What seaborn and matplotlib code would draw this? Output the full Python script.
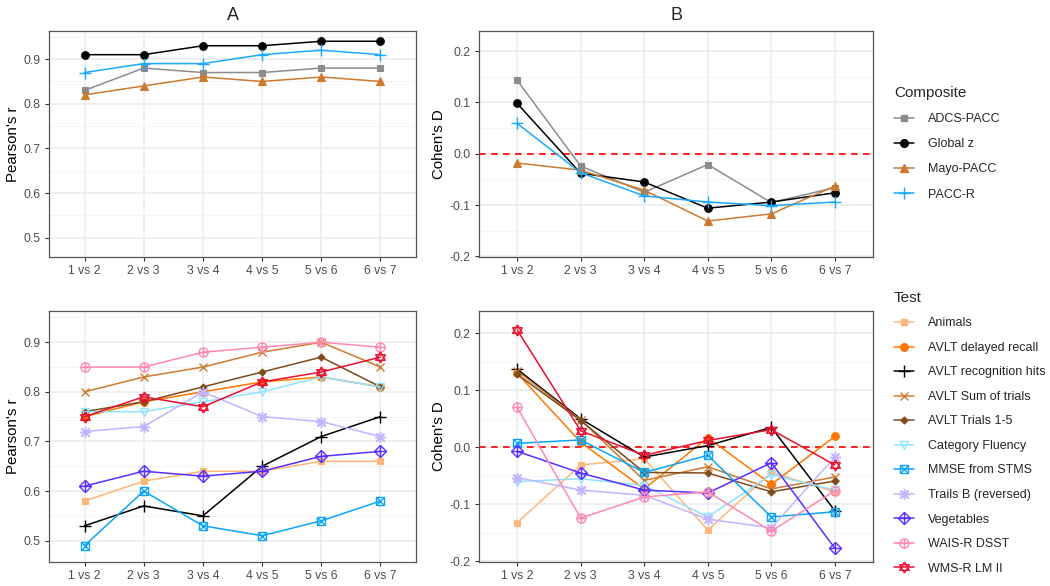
import numpy as np
import pandas as pd
import matplotlib
matplotlib.use("Agg")
import matplotlib.pyplot as plt
import seaborn as sns
from matplotlib.lines import Line2D
from matplotlib.legend_handler import HandlerTuple
from matplotlib.ticker import MultipleLocator

# ---------------- data ----------------
comparisons = ["1 vs 2", "2 vs 3", "3 vs 4", "4 vs 5", "5 vs 6", "6 vs 7"]

composites = ["ADCS-PACC", "Global z", "Mayo-PACC", "PACC-R"]
r_adcs_pacc = [0.83, 0.88, 0.87, 0.87, 0.88, 0.88]
r_global_z = [0.91, 0.91, 0.93, 0.93, 0.94, 0.94]
r_mayo_pacc = [0.82, 0.84, 0.86, 0.85, 0.86, 0.85]
r_pacc_r = [0.87, 0.89, 0.89, 0.91, 0.92, 0.91]

d_adcs_pacc = [0.143, -0.024, -0.075, -0.021, -0.095, -0.066]
d_global_z = [0.098, -0.038, -0.055, -0.106, -0.094, -0.076]
d_mayo_pacc = [-0.018, -0.032, -0.071, -0.131, -0.117, -0.063]
d_pacc_r = [0.059, -0.037, -0.082, -0.094, -0.101, -0.094]

tests = ["Animals", "AVLT delayed recall", "AVLT recognition hits",
         "AVLT Sum of trials", "AVLT Trials 1-5", "Category Fluency",
         "MMSE from STMS", "Trails B (reversed)", "Vegetables",
         "WAIS-R DSST", "WMS-R LM II"]
r_animals = [0.58, 0.62, 0.64, 0.64, 0.66, 0.66]
r_avlt_delayed = [0.75, 0.78, 0.80, 0.82, 0.83, 0.81]
r_avlt_recog = [0.53, 0.57, 0.55, 0.65, 0.71, 0.75]
r_avlt_sum = [0.80, 0.83, 0.85, 0.88, 0.90, 0.85]
r_avlt_trials = [0.76, 0.78, 0.81, 0.84, 0.87, 0.81]
r_category = [0.76, 0.76, 0.78, 0.80, 0.83, 0.81]
r_mmse = [0.49, 0.60, 0.53, 0.51, 0.54, 0.58]
r_trails_b = [0.72, 0.73, 0.80, 0.75, 0.74, 0.71]
r_vegetables = [0.61, 0.64, 0.63, 0.64, 0.67, 0.68]
r_dsst = [0.85, 0.85, 0.88, 0.89, 0.90, 0.89]
r_lm2 = [0.75, 0.79, 0.77, 0.82, 0.84, 0.87]

d_animals = [-0.132, -0.031, -0.020, -0.145, -0.044, -0.078]
d_avlt_delayed = [0.130, 0.009, -0.073, 0.017, -0.065, 0.019]
d_avlt_recog = [0.137, 0.050, -0.017, 0.003, 0.035, -0.111]
d_avlt_sum = [0.134, 0.048, -0.058, -0.034, -0.073, -0.052]
d_avlt_trials = [0.128, 0.047, -0.044, -0.045, -0.078, -0.059]
d_category = [-0.060, -0.055, -0.067, -0.122, -0.048, -0.075]
d_mmse = [0.007, 0.013, -0.044, -0.014, -0.122, -0.113]
d_trails_b = [-0.053, -0.075, -0.084, -0.126, -0.141, -0.017]
d_vegetables = [-0.007, -0.045, -0.075, -0.080, -0.027, -0.177]
d_dsst = [0.070, -0.124, -0.087, -0.078, -0.147, -0.076]
d_lm2 = [0.206, 0.029, -0.014, 0.012, 0.031, -0.031]

comp_r = [r_adcs_pacc, r_global_z, r_mayo_pacc, r_pacc_r]
comp_d = [d_adcs_pacc, d_global_z, d_mayo_pacc, d_pacc_r]
test_r = [r_animals, r_avlt_delayed, r_avlt_recog, r_avlt_sum, r_avlt_trials,
          r_category, r_mmse, r_trails_b, r_vegetables, r_dsst, r_lm2]
test_d = [d_animals, d_avlt_delayed, d_avlt_recog, d_avlt_sum, d_avlt_trials,
          d_category, d_mmse, d_trails_b, d_vegetables, d_dsst, d_lm2]

# ---------------- styles ----------------
star_tri_up = [(0, 1), (-0.866, -0.5), (0.866, -0.5), (0, 1)]
star_tri_dn = [(0, -1), (-0.866, 0.5), (0.866, 0.5), (0, -1)]

comp_colors = ["#8C8C8C", "#000000", "#CC7A30", "#18AAFF"]
comp_markers = [[("s", True, 5.0)], [("o", True, 5.5)], [("^", True, 5.8)],
                [("+", False, 9.0)]]

test_colors = ["#FDB77A", "#FF7700", "#000000", "#CC7A30", "#7F4A1C",
               "#8FE3FF", "#0AA6F5", "#C3B4FF", "#5A2EFF", "#FF88B0", "#E8102E"]
test_markers = [
    [("s", True, 5.0)],
    [("o", True, 5.5)],
    [("+", False, 9.0)],
    [("x", False, 6.0)],
    [("D", True, 3.5)],
    [("v", False, 6.0)],
    [("s", False, 6.0), ("x", False, 6.0)],
    [((8, 2, 0), False, 8.0)],
    [("D", False, 6.0), ("+", False, 8.5)],
    [("o", False, 6.5), ("+", False, 6.5)],
    [(star_tri_up, False, 8.0), (star_tri_dn, False, 8.0)],
]

sns.set_theme(style="white")
plt.rcParams["font.family"] = ["Liberation Sans", "DejaVu Sans"]

W, H = 1050, 586
fig = plt.figure(figsize=(W / 100, H / 100), dpi=100)


def box(l, t, r, b):
    return [l / W, 1 - b / H, (r - l) / W, (b - t) / H]


ax_tl = fig.add_axes(box(49, 31, 416, 257))
ax_tr = fig.add_axes(box(479, 31, 873, 257))
ax_bl = fig.add_axes(box(49, 311, 416, 562))
ax_br = fig.add_axes(box(479, 311, 873, 562))

LW = 1.1


def draw(ax, series, colors, markers):
    for vals, col, mk in zip(series, colors, markers):
        df = pd.DataFrame({"comparison": comparisons, "value": vals})
        first = True
        for m, filled, ms in mk:
            sns.lineplot(data=df, x="comparison", y="value", ax=ax, sort=False,
                         color=col, linewidth=LW if first else 0,
                         linestyle="-" if first else "none",
                         marker=m, markersize=ms,
                         markerfacecolor=col if filled else "none",
                         markeredgecolor=col, markeredgewidth=1.0 if not filled else 0.8,
                         legend=False, zorder=3)
            first = False


def style(ax, ylab, ylim, major, minor):
    ax.set_xlim(-0.6, 5.6)
    ax.set_ylim(*ylim)
    ax.yaxis.set_major_locator(MultipleLocator(major))
    ax.yaxis.set_minor_locator(MultipleLocator(minor))
    ax.grid(True, which="major", axis="both", color="#EBEBEB", linewidth=1.1, zorder=0)
    ax.grid(True, which="minor", axis="y", color="#F3F3F3", linewidth=0.6, zorder=0)
    ax.set_axisbelow(True)
    for s in ax.spines.values():
        s.set_visible(True)
        s.set_color("#555555")
        s.set_linewidth(0.9)
    ax.tick_params(axis="both", which="major", direction="out", length=3, width=0.8,
                   color="#333333", labelsize=8.8, labelcolor="#4D4D4D", pad=3,
                   bottom=True, left=True)
    ax.tick_params(axis="y", which="minor", length=0)
    ax.set_xlabel("")
    ax.set_ylabel(ylab, fontsize=10.8, color="black", labelpad=2.5)


r_lim = (0.457, 0.963)
d_lim = (-0.201, 0.239)

draw(ax_tl, comp_r, comp_colors, comp_markers)
draw(ax_tr, comp_d, comp_colors, comp_markers)
draw(ax_bl, test_r, test_colors, test_markers)
draw(ax_br, test_d, test_colors, test_markers)

for ax in (ax_tr, ax_br):
    ax.axhline(0, color="#FF0000", linestyle=(0, (4, 3.2)), linewidth=1.2, zorder=2)

style(ax_tl, "Pearson's r", r_lim, 0.1, 0.05)
style(ax_bl, "Pearson's r", r_lim, 0.1, 0.05)
style(ax_tr, "Cohen's D", d_lim, 0.1, 0.05)
style(ax_br, "Cohen's D", d_lim, 0.1, 0.05)
for ax in (ax_tr, ax_br):
    ax.yaxis.set_major_formatter(matplotlib.ticker.FuncFormatter(lambda v, p: f"{v:.1f}".replace("-0.0", "0.0")))
for ax in (ax_tl, ax_bl):
    ax.yaxis.set_major_formatter(matplotlib.ticker.FuncFormatter(lambda v, p: f"{v:.1f}"))

fig.text(233 / W, 1 - 15 / H, "A", ha="center", va="center", fontsize=13)
fig.text(676 / W, 1 - 15 / H, "B", ha="center", va="center", fontsize=13)


def handles_for(colors, markers):
    hs = []
    for col, mk in zip(colors, markers):
        parts = []
        for i, (m, filled, ms) in enumerate(mk):
            parts.append(Line2D([], [], color=col, linewidth=LW if i == 0 else 0,
                                linestyle="-" if i == 0 else "none",
                                marker=m, markersize=ms,
                                markerfacecolor=col if filled else "none",
                                markeredgecolor=col, markeredgewidth=1.0))
        hs.append(tuple(parts))
    return hs


leg_kw = dict(loc="upper left", frameon=False, alignment="left",
              handler_map={tuple: HandlerTuple(ndivide=1)}, fontsize=9.0,
              title_fontsize=11, handlelength=1.6, handletextpad=1.1,
              borderaxespad=0, borderpad=0)
fig.legend(handles_for(comp_colors, comp_markers), composites, title="Composite",
           bbox_to_anchor=(894 / W, 1 - 86 / H), labelspacing=1.05, **leg_kw)
fig.legend(handles_for(test_colors, test_markers), tests, title="Test",
           bbox_to_anchor=(894 / W, 1 - 291 / H), labelspacing=1.0, **leg_kw)

fig.savefig("out.png", dpi=100, facecolor="white")
